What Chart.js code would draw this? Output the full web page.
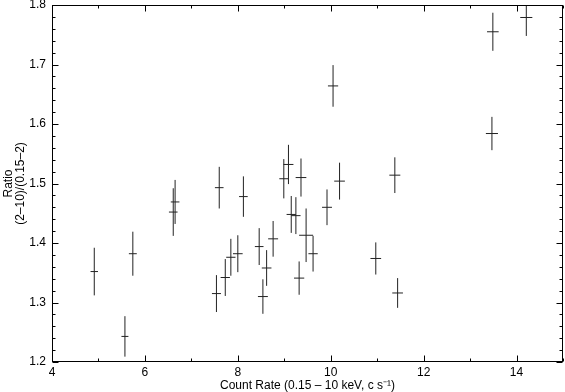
<!DOCTYPE html>
<html>
<head>
<meta charset="utf-8">
<script src="https://cdn.jsdelivr.net/npm/chart.js@4.4.1/dist/chart.umd.min.js"></script>
<style>
  html, body { margin: 0; padding: 0; background: #fff; }
  #wrap { width: 565px; height: 392px; }
</style>
</head>
<body>
<div id="wrap"><canvas id="ratioChart" width="565" height="392"></canvas></div>
<script>
// Hardness ratio vs count rate
const countRate = [4.91, 5.57, 5.74, 6.61, 6.65, 7.60, 8.12, 7.54, 7.73, 7.85, 8.00,
                   8.46, 8.54, 8.62, 8.76, 8.99, 9.09, 9.36, 9.15, 9.25, 9.47, 9.62,
                   9.32, 9.92, 10.19, 10.05, 10.97, 11.38, 11.44, 13.49, 13.47, 14.21];
const countRateErr = [0.08, 0.075, 0.085, 0.093, 0.093, 0.093, 0.093, 0.097, 0.10, 0.10, 0.104,
                      0.093, 0.107, 0.104, 0.107, 0.097, 0.107, 0.115, 0.10, 0.10, 0.15, 0.10,
                      0.11, 0.107, 0.115, 0.11, 0.115, 0.118, 0.115, 0.125, 0.13, 0.13];
const ratio = [1.352, 1.243, 1.382, 1.452, 1.469, 1.493, 1.478, 1.315, 1.342, 1.376, 1.382,
               1.394, 1.310, 1.358, 1.407, 1.508, 1.532, 1.510, 1.448, 1.446, 1.413, 1.382,
               1.341, 1.460, 1.504, 1.664, 1.374, 1.514, 1.316, 1.755, 1.584, 1.779];
const ratioErr = [0.040, 0.034, 0.037, 0.040, 0.037, 0.035, 0.034, 0.031, 0.031, 0.031, 0.031,
                  0.031, 0.029, 0.030, 0.030, 0.033, 0.033, 0.032, 0.031, 0.031, 0.045, 0.030,
                  0.028, 0.030, 0.031, 0.035, 0.027, 0.030, 0.025, 0.032, 0.028, 0.031];

const xTicks = [4, 6, 8, 10, 12, 14];
const xMinorStep = 1;
const yTicks = [1.2, 1.3, 1.4, 1.5, 1.6, 1.7, 1.8];
const yMinorStep = 0.02;

Chart.defaults.font.family = '"Liberation Sans", Arial, sans-serif';
Chart.defaults.font.size = 12;
Chart.defaults.color = '#000';

// error bars + boxed frame with inward ticks
const frameAndErrors = {
    id: 'frameAndErrors',
    afterDatasetsDraw(chart) {
        const ctx = chart.ctx;
        const xs = chart.scales.x, ys = chart.scales.y;
        const a = chart.chartArea;
        ctx.save();
        ctx.beginPath();
        ctx.rect(a.left, a.top, a.right - a.left, a.bottom - a.top);
        ctx.clip();
        ctx.strokeStyle = '#222';
        ctx.lineWidth = 1;
        ctx.beginPath();
        for (let i = 0; i < countRate.length; i++) {
            const cx = xs.getPixelForValue(countRate[i]);
            const cy = ys.getPixelForValue(ratio[i]);
            ctx.moveTo(xs.getPixelForValue(countRate[i] - countRateErr[i]), cy);
            ctx.lineTo(xs.getPixelForValue(countRate[i] + countRateErr[i]), cy);
            ctx.moveTo(cx, ys.getPixelForValue(ratio[i] - ratioErr[i]));
            ctx.lineTo(cx, ys.getPixelForValue(ratio[i] + ratioErr[i]));
        }
        ctx.stroke();
        ctx.restore();

        ctx.save();
        ctx.strokeStyle = '#000';
        ctx.lineWidth = 1;
        const L = Math.round(a.left) + 0.5, R = Math.round(a.right) - 0.5;
        const T = Math.round(a.top) + 0.5, B = Math.round(a.bottom) - 0.5;
        ctx.strokeRect(L, T, R - L, B - T);
        ctx.beginPath();
        // x ticks, top and bottom
        for (let v = xs.min; v <= xs.max + 1e-9; v += xMinorStep) {
            const major = xTicks.some(t => Math.abs(t - v) < 1e-6);
            const len = major ? 6 : 3;
            const px = Math.round(xs.getPixelForValue(v)) + 0.5;
            ctx.moveTo(px, B); ctx.lineTo(px, B - len);
            ctx.moveTo(px, T); ctx.lineTo(px, T + len);
        }
        // y ticks, left and right
        const n = Math.round((ys.max - ys.min) / yMinorStep);
        for (let k = 0; k <= n; k++) {
            const v = ys.min + k * yMinorStep;
            const major = yTicks.some(t => Math.abs(t - v) < 1e-6);
            const len = major ? 6 : 3;
            const py = Math.round(ys.getPixelForValue(v)) + 0.5;
            ctx.moveTo(L, py); ctx.lineTo(L + len, py);
            ctx.moveTo(R, py); ctx.lineTo(R - len, py);
        }
        ctx.stroke();
        ctx.restore();
    }
};

new Chart(document.getElementById('ratioChart'), {
    type: 'scatter',
    data: {
        datasets: [{
            data: countRate.map((x, i) => ({ x: x, y: ratio[i] })),
            pointRadius: 0,
            pointHoverRadius: 0,
            showLine: false
        }]
    },
    options: {
        responsive: false,
        animation: false,
        events: [],
        layout: { padding: { top: 5, right: 2, left: 0, bottom: 0 } },
        plugins: {
            legend: { display: false },
            tooltip: { enabled: false }
        },
        scales: {
            x: {
                type: 'linear',
                min: 4,
                max: 15,
                afterBuildTicks: s => { s.ticks = xTicks.map(v => ({ value: v })); },
                afterFit: s => { s.height = 30; s.paddingLeft = 0; s.paddingRight = 0; },
                grid: { display: false, drawTicks: false },
                border: { display: false },
                ticks: { padding: 3, maxRotation: 0, font: { size: 12 } },
                title: {
                    display: true,
                    text: 'Count Rate (0.15 \u2013 10 keV, c s\u207B\u00B9)',
                    font: { size: 12, lineHeight: 1 },
                    padding: { top: 0, bottom: 0 }
                }
            },
            y: {
                type: 'linear',
                min: 1.2,
                max: 1.8,
                afterBuildTicks: s => { s.ticks = yTicks.map(v => ({ value: v })); },
                afterFit: s => { s.width = 52; s.paddingTop = 0; s.paddingBottom = 0; },
                grid: { display: false, drawTicks: false },
                border: { display: false },
                ticks: { padding: 6, font: { size: 12 }, callback: v => v.toFixed(1) },
                title: {
                    display: true,
                    text: ['Ratio', '(2\u201310)/(0.15\u20132)'],
                    font: { size: 12, lineHeight: 1.05 },
                    padding: { top: 2, bottom: 0 }
                }
            }
        }
    },
    plugins: [frameAndErrors]
});
</script>
</body>
</html>
